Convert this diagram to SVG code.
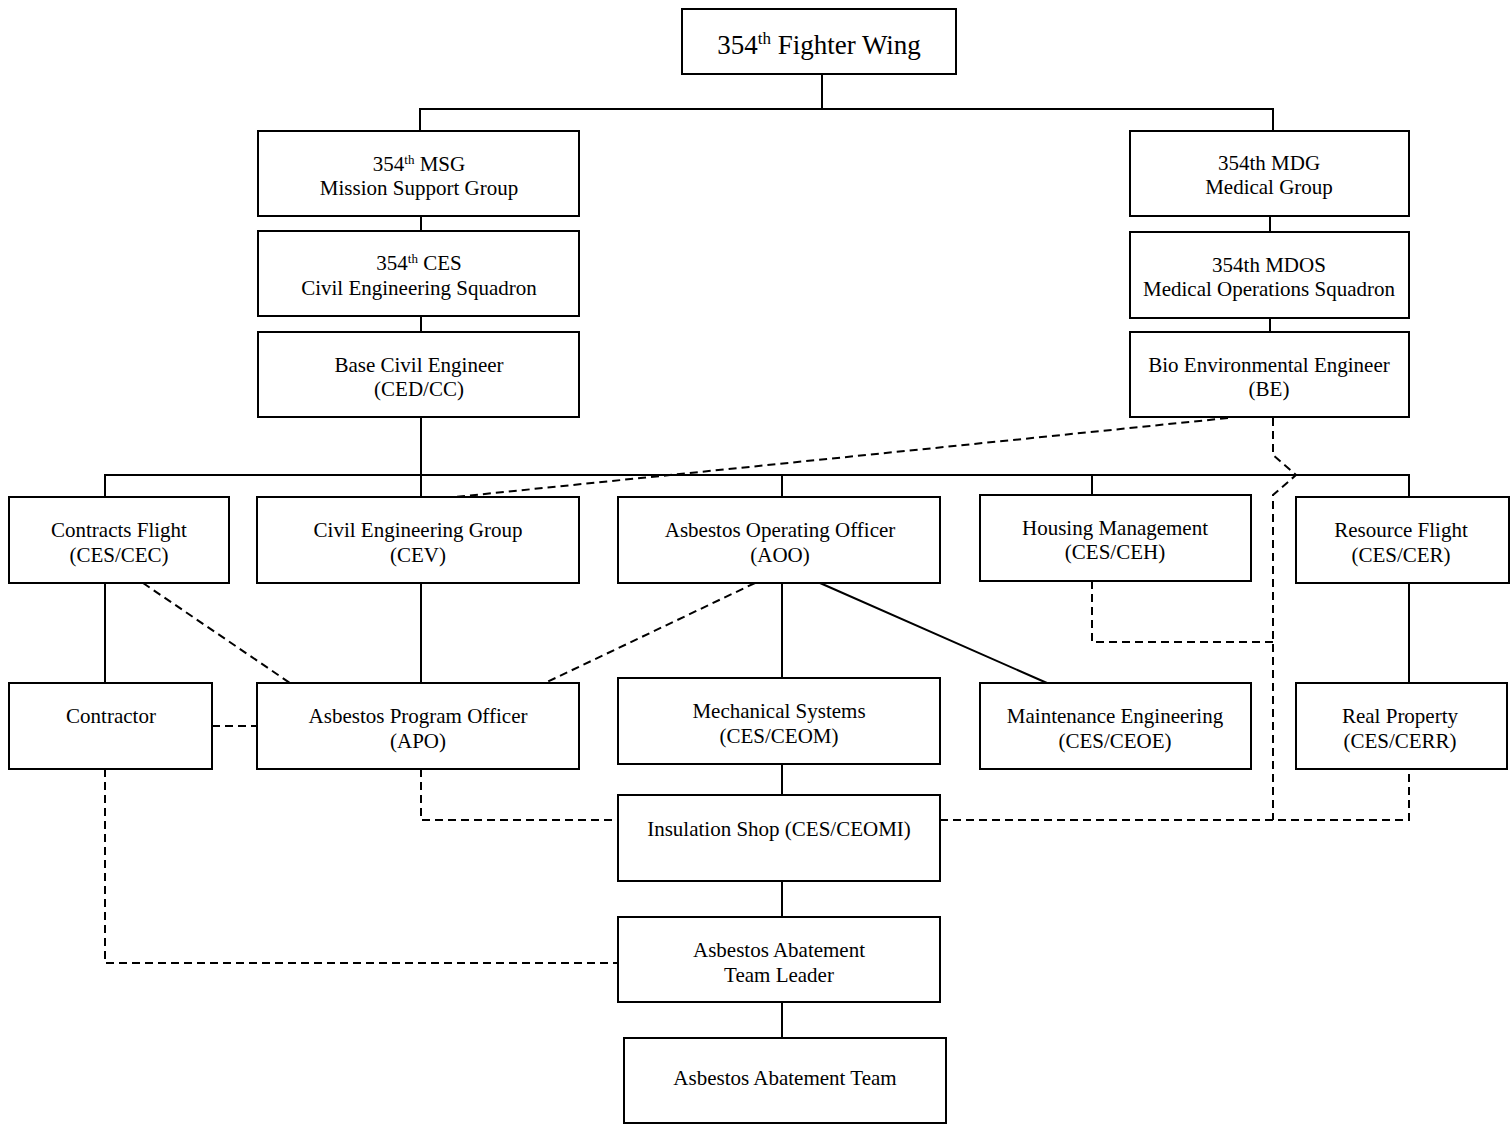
<svg xmlns="http://www.w3.org/2000/svg" width="1512" height="1125" viewBox="0 0 1512 1125">
<style>
.box{fill:#fff;stroke:#000;stroke-width:2}
.t{font-family:"Liberation Serif","Times New Roman",serif;font-size:21px;fill:#000;text-anchor:middle}
.big{font-size:27px}
.sup{font-size:13px}
.bigsup{font-size:17px}
.s{fill:none;stroke:#000;stroke-width:2}
.d{fill:none;stroke:#000;stroke-width:2;stroke-dasharray:8 5}
</style>
<g id="connectors">
<path class="s" d="M822,74V109M420,131V109H1273V131"/>
<path class="s" d="M421,216V231M421,316V332M1270,216V232M1270,318V332"/>
<path class="s" d="M421,417V497M105,497V475H1409V497M782,475V497M1092,475V495"/>
<path class="s" d="M105,583V683M421,583V683M782,583V678M820,583L1047,683M1409,583V683"/>
<path class="s" d="M782,764V795M782,881V917M782,1002V1038"/>
<path class="d" d="M1228,418L455,497"/>
<path class="d" d="M1273,418V455L1296,475L1273,495V820"/>
<path class="d" d="M1092,581V642H1273"/>
<path class="d" d="M143,583L290,683"/>
<path class="d" d="M755,583L545,683"/>
<path class="d" d="M212,726H257"/>
<path class="d" d="M421,769V820H618"/>
<path class="d" d="M940,820H1409V769"/>
<path class="d" d="M105,769V963H618"/>
</g>
<g id="n-wing"><rect class="box" x="682" y="9" width="274" height="65"/><text class="t big" x="819" y="54">354<tspan class="bigsup" dy="-10">th</tspan><tspan dy="10"> Fighter Wing</tspan></text></g>
<g id="n-msg"><rect class="box" x="258" y="131" width="321" height="85"/><text class="t" x="419" y="171">354<tspan class="sup" dy="-7">th</tspan><tspan dy="7"> MSG</tspan></text><text class="t" x="419" y="195">Mission Support Group</text></g>
<g id="n-ces"><rect class="box" x="258" y="231" width="321" height="85"/><text class="t" x="419" y="270">354<tspan class="sup" dy="-7">th</tspan><tspan dy="7"> CES</tspan></text><text class="t" x="419" y="295">Civil Engineering Squadron</text></g>
<g id="n-bce"><rect class="box" x="258" y="332" width="321" height="85"/><text class="t" x="419" y="372">Base Civil Engineer</text><text class="t" x="419" y="396">(CED/CC)</text></g>
<g id="n-mdg"><rect class="box" x="1130" y="131" width="279" height="85"/><text class="t" x="1269" y="170">354th MDG</text><text class="t" x="1269" y="194">Medical Group</text></g>
<g id="n-mdos"><rect class="box" x="1130" y="232" width="279" height="86"/><text class="t" x="1269" y="272">354th MDOS</text><text class="t" x="1269" y="296">Medical Operations Squadron</text></g>
<g id="n-be"><rect class="box" x="1130" y="332" width="279" height="85"/><text class="t" x="1269" y="372">Bio Environmental Engineer</text><text class="t" x="1269" y="396">(BE)</text></g>
<g id="n-cec"><rect class="box" x="9" y="497" width="220" height="86"/><text class="t" x="119" y="537">Contracts Flight</text><text class="t" x="119" y="562">(CES/CEC)</text></g>
<g id="n-cev"><rect class="box" x="257" y="497" width="322" height="86"/><text class="t" x="418" y="537">Civil Engineering Group</text><text class="t" x="418" y="562">(CEV)</text></g>
<g id="n-aoo"><rect class="box" x="618" y="497" width="322" height="86"/><text class="t" x="780" y="537">Asbestos Operating Officer</text><text class="t" x="780" y="562">(AOO)</text></g>
<g id="n-ceh"><rect class="box" x="980" y="495" width="271" height="86"/><text class="t" x="1115" y="535">Housing Management</text><text class="t" x="1115" y="559">(CES/CEH)</text></g>
<g id="n-cer"><rect class="box" x="1296" y="497" width="213" height="86"/><text class="t" x="1401" y="537">Resource Flight</text><text class="t" x="1401" y="562">(CES/CER)</text></g>
<g id="n-contractor"><rect class="box" x="9" y="683" width="203" height="86"/><text class="t" x="111" y="723">Contractor</text></g>
<g id="n-apo"><rect class="box" x="257" y="683" width="322" height="86"/><text class="t" x="418" y="723">Asbestos Program Officer</text><text class="t" x="418" y="748">(APO)</text></g>
<g id="n-ceom"><rect class="box" x="618" y="678" width="322" height="86"/><text class="t" x="779" y="718">Mechanical Systems</text><text class="t" x="779" y="743">(CES/CEOM)</text></g>
<g id="n-ceoe"><rect class="box" x="980" y="683" width="271" height="86"/><text class="t" x="1115" y="723">Maintenance Engineering</text><text class="t" x="1115" y="748">(CES/CEOE)</text></g>
<g id="n-cerr"><rect class="box" x="1296" y="683" width="211" height="86"/><text class="t" x="1400" y="723">Real Property</text><text class="t" x="1400" y="748">(CES/CERR)</text></g>
<g id="n-ceomi"><rect class="box" x="618" y="795" width="322" height="86"/><text class="t" x="779" y="836">Insulation Shop (CES/CEOMI)</text></g>
<g id="n-leader"><rect class="box" x="618" y="917" width="322" height="85"/><text class="t" x="779" y="957">Asbestos Abatement</text><text class="t" x="779" y="982">Team Leader</text></g>
<g id="n-team"><rect class="box" x="624" y="1038" width="322" height="85"/><text class="t" x="785" y="1085">Asbestos Abatement Team</text></g>
</svg>
